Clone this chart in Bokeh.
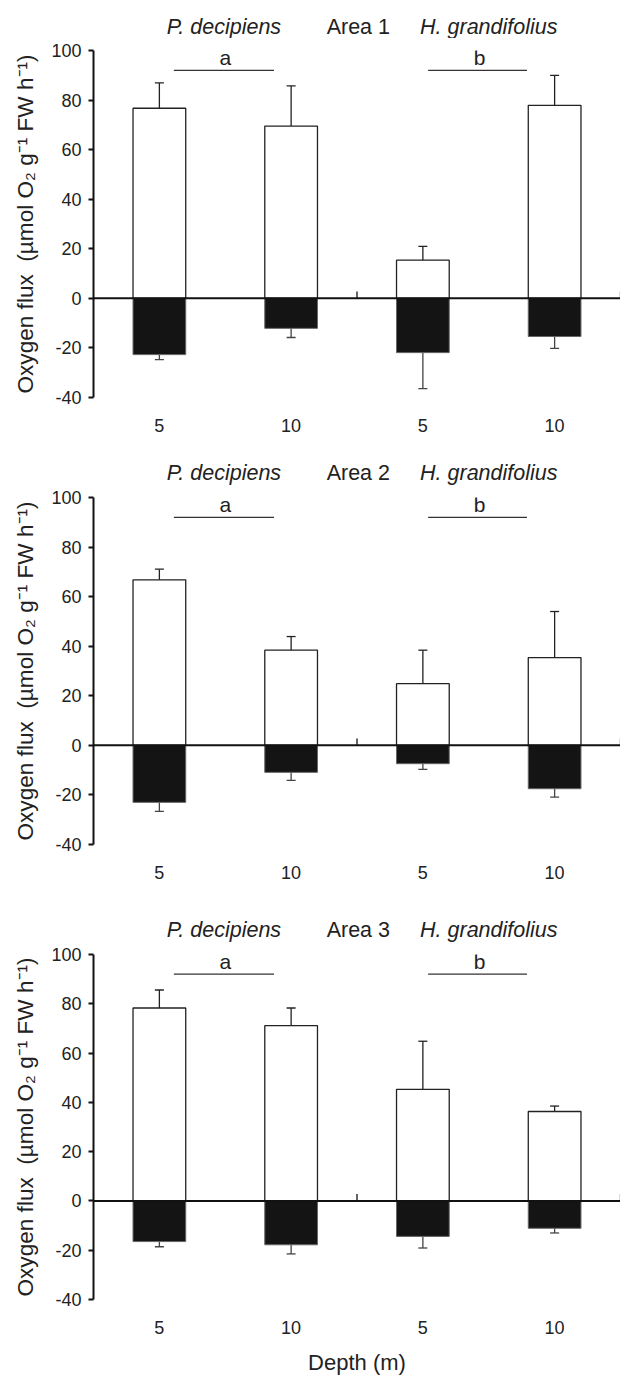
import numpy as np
from bokeh.plotting import figure
from bokeh.models import ColumnDataSource, Whisker, TeeHead, Span, FixedTicker, Range1d
from bokeh.layouts import column
from bokeh.embed import file_html
from bokeh.resources import INLINE
from bokeh.core.properties import value

# ---- data ----
species = ["P. decipiens", "H. grandifolius"]
depth_labels = ["5", "10", "5", "10"]
areas = ["Area 1", "Area 2", "Area 3"]
group_letters = ["a", "b"]

# net production (white bars) with upper / lower error limits
area1_prod = [76.7, 69.5, 15.4, 77.9]
area1_prod_hi = [86.9, 85.7, 21.0, 90.0]
area1_prod_lo = [66.8, 53.3, 10.3, 65.6]
# respiration (black bars) with lower error limits
area1_resp = [-22.7, -12.1, -21.9, -15.4]
area1_resp_lo = [-24.7, -15.8, -36.4, -20.2]

area2_prod = [66.8, 38.4, 24.9, 35.4]
area2_prod_hi = [71.1, 43.9, 38.4, 54.0]
area2_prod_lo = [61.6, 33.2, 12.2, 17.1]
area2_resp = [-23.0, -10.9, -7.4, -17.5]
area2_resp_lo = [-26.6, -14.1, -9.7, -20.9]

area3_prod = [78.3, 71.1, 45.3, 36.3]
area3_prod_hi = [85.6, 78.3, 64.8, 38.5]
area3_prod_lo = [68.2, 54.7, 40.2, 24.4]
area3_resp = [-16.5, -17.8, -14.4, -11.1]
area3_resp_lo = [-18.6, -21.5, -19.1, -13.0]

y_ticks = [-40, -20, 0, 20, 40, 60, 80, 100]

FONT = "Liberation Sans"
TXT = "#222222"
N = len(depth_labels)


def make_header(area, height, text_y):
    h = figure(width=620, height=height, x_range=Range1d(0, N), y_range=Range1d(0, height),
               output_backend="svg", toolbar_location=None, x_axis_type=None, y_axis_type=None,
               min_border_left=93, min_border_right=0, min_border_top=0, min_border_bottom=0)
    h.outline_line_color = None
    h.grid.visible = False
    h.text(x=[0.99, 3.0], y=[text_y, text_y], text=species,
           text_font=value(FONT), text_font_size="21.5px", text_font_style="italic",
           text_color=TXT, text_align="center", text_baseline="middle")
    h.text(x=[2.01], y=[text_y], text=[area],
           text_font=value(FONT), text_font_size="21.5px",
           text_color=TXT, text_align="center", text_baseline="middle")
    return h


def make_panel(prod, prod_hi, prod_lo, resp, resp_lo, height, border_top, border_bottom, xlabel):
    x = np.arange(N) + 0.5
    p = figure(width=620, height=height, x_range=Range1d(0, N),
               y_range=Range1d(y_ticks[0], y_ticks[-1]),
               output_backend="svg", toolbar_location=None,
               min_border_left=93, min_border_right=0, min_border_top=border_top,
               min_border_bottom=border_bottom)
    p.outline_line_color = None
    p.grid.visible = False

    # y axis
    ya = p.yaxis[0]
    ya.ticker = FixedTicker(ticks=y_ticks)
    ya.major_label_overrides = {t: str(t) for t in y_ticks}
    ya.axis_line_width = 2
    ya.axis_line_color = "#111111"
    ya.major_tick_line_width = 2
    ya.major_tick_line_color = "#111111"
    ya.major_tick_out = 5
    ya.major_tick_in = 0
    ya.minor_tick_line_color = None
    ya.major_label_text_font = FONT
    ya.major_label_text_font_size = "18px"
    ya.major_label_text_color = TXT
    ya.major_label_standoff = 7
    ya.axis_label = "Oxygen flux\u00a0\u00a0(\u00b5mol O\u2082 g\u207b\u00b9 FW h\u207b\u00b9)"
    ya.axis_label_text_font = FONT
    ya.axis_label_text_font_size = "22.6px"
    ya.axis_label_text_font_style = "normal"
    ya.axis_label_text_color = TXT
    ya.axis_label_standoff = 10

    # x axis (labels only)
    xa = p.xaxis[0]
    xa.ticker = FixedTicker(ticks=list(x))
    xa.major_label_overrides = {float(xi): lab for xi, lab in zip(x, depth_labels)}
    xa.axis_line_color = None
    xa.major_tick_line_color = None
    xa.minor_tick_line_color = None
    xa.major_tick_out = 0
    xa.major_tick_in = 0
    xa.major_label_text_font = FONT
    xa.major_label_text_font_size = "18px"
    xa.major_label_text_color = TXT
    xa.major_label_standoff = 21
    if xlabel:
        xa.axis_label = xlabel
        xa.axis_label_text_font = FONT
        xa.axis_label_text_font_size = "22px"
        xa.axis_label_text_font_style = "normal"
        xa.axis_label_text_color = TXT
        xa.axis_label_standoff = 13

    src = ColumnDataSource(dict(x=x, prod=prod, hi=prod_hi, lo=prod_lo,
                                resp=resp, rlo=resp_lo))
    p.vbar(x="x", top="prod", bottom=0, width=0.4, source=src,
           fill_color="white", line_color="#222222", line_width=1.3)
    p.vbar(x="x", top=0, bottom="resp", width=0.4, source=src,
           fill_color="#141414", line_color="#666666", line_width=1)

    w1 = Whisker(base="x", upper="hi", lower="lo", source=src,
                 line_color="#222222", line_width=1.3,
                 upper_head=TeeHead(size=9, line_color="#222222", line_width=1.3),
                 lower_head=TeeHead(size=9, line_color="#222222", line_width=1.3))
    w2 = Whisker(base="x", upper="resp", lower="rlo", source=src,
                 line_color="#444444", line_width=1.3, upper_head=None,
                 lower_head=TeeHead(size=9, line_color="#444444", line_width=1.3))
    p.add_layout(w1)
    p.add_layout(w2)

    p.add_layout(Span(location=0, dimension="width", line_color="#111111", line_width=2))
    per_group = N // len(species)
    edges = [per_group * (i + 1) for i in range(len(species))]
    p.segment(x0=edges, y0=[0] * len(edges), x1=edges, y1=[2.8] * len(edges),
              line_color="#111111", line_width=1.3)

    # significance lines and letters
    p.segment(x0=[0.61, 2.54], y0=[92, 92], x1=[1.37, 3.29], y1=[92, 92],
              line_color="#333333", line_width=1.2)
    p.text(x=[1.0, 2.93], y=[97, 97], text=group_letters,
           text_font=value(FONT), text_font_size="21px", text_color=TXT,
           text_align="center", text_baseline="middle")
    return p


h1 = make_header(areas[0], 38, 11.7)
p1 = make_panel(area1_prod, area1_prod_hi, area1_prod_lo, area1_resp, area1_resp_lo, 417, 12, 58, None)
h2 = make_header(areas[1], 30, 13)
p2 = make_panel(area2_prod, area2_prod_hi, area2_prod_lo, area2_resp, area2_resp_lo, 427, 12, 68, None)
h3 = make_header(areas[2], 30, 13)
p3 = make_panel(area3_prod, area3_prod_hi, area3_prod_lo, area3_resp, area3_resp_lo, 435, 12, 76, "Depth (m)")

layout = column(h1, p1, h2, p2, h3, p3, spacing=0)
open("out.html", "w").write(file_html(layout, INLINE))
